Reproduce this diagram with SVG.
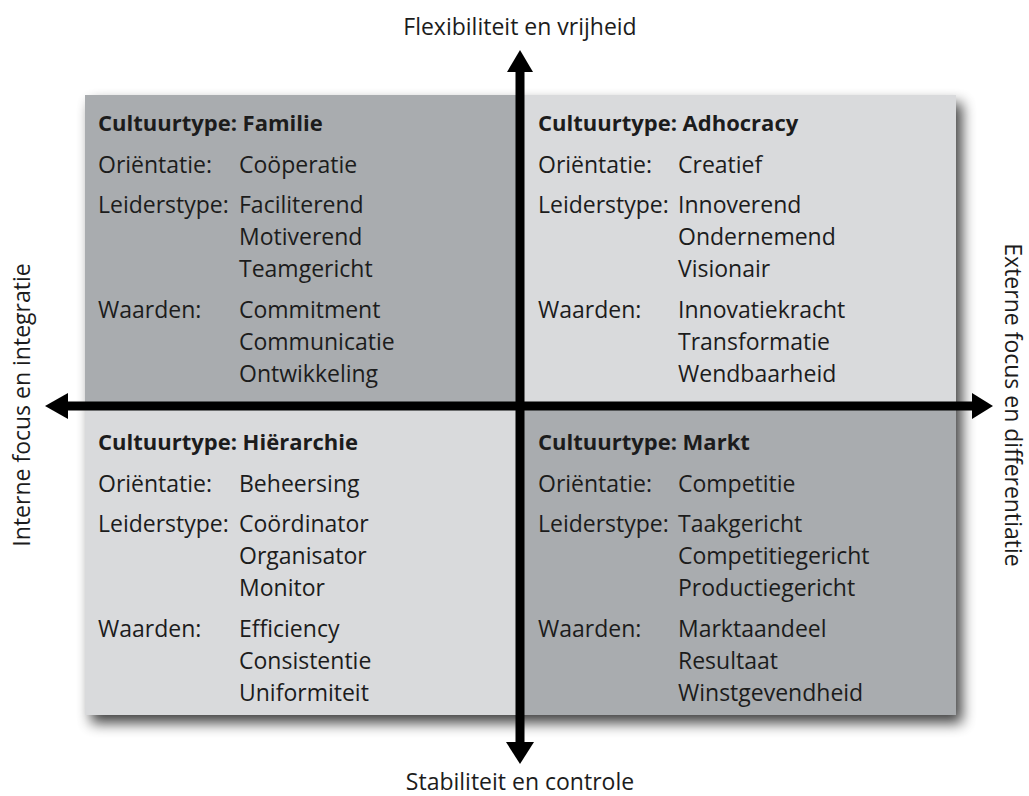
<svg xmlns="http://www.w3.org/2000/svg" width="1029" height="796" viewBox="0 0 1029 796">
<style>
  text { font-family: "Open Sans", "DejaVu Sans", sans-serif; font-size: 23px; fill: #1c1c1c; }
  .title { font-weight: 700; font-size: 22px; }
  .axis { text-anchor: middle; }
  .dark { fill: #a9acaf; }
  .light { fill: #d9dadc; }
  .ax { fill: #000; }
</style>
<defs>
  <filter id="shadow" x="-10%" y="-10%" width="125%" height="125%">
    <feGaussianBlur in="SourceAlpha" stdDeviation="7"/>
    <feOffset dx="6" dy="8" result="b"/>
    <feComponentTransfer><feFuncA type="linear" slope="0.75"/></feComponentTransfer>
    <feMerge><feMergeNode/><feMergeNode in="SourceGraphic"/></feMerge>
  </filter>
</defs>
<rect x="85" y="95" width="871" height="620" fill="#d9dadc" filter="url(#shadow)"/>
<g id="familie">
  <rect class="dark" x="85" y="95" width="435" height="311"/>
  <text class="title" x="98" y="131">Cultuurtype: Familie</text>
  <text x="98" y="173">Oriëntatie:</text><text x="239" y="173">Coöperatie</text>
  <text x="98" y="213">Leiderstype:</text><text x="239" y="213">Faciliterend</text>
  <text x="239" y="245">Motiverend</text>
  <text x="239" y="277">Teamgericht</text>
  <text x="98" y="318">Waarden:</text><text x="239" y="318">Commitment</text>
  <text x="239" y="350">Communicatie</text>
  <text x="239" y="382">Ontwikkeling</text>
</g>
<g id="adhocracy">
  <rect class="light" x="520" y="95" width="436" height="311"/>
  <text class="title" x="538" y="131">Cultuurtype: Adhocracy</text>
  <text x="538" y="173">Oriëntatie:</text><text x="678" y="173">Creatief</text>
  <text x="538" y="213">Leiderstype:</text><text x="678" y="213">Innoverend</text>
  <text x="678" y="245">Ondernemend</text>
  <text x="678" y="277">Visionair</text>
  <text x="538" y="318">Waarden:</text><text x="678" y="318">Innovatiekracht</text>
  <text x="678" y="350">Transformatie</text>
  <text x="678" y="382">Wendbaarheid</text>
</g>
<g id="hierarchie">
  <rect class="light" x="85" y="406" width="435" height="309"/>
  <text class="title" x="98" y="450">Cultuurtype: Hiërarchie</text>
  <text x="98" y="492">Oriëntatie:</text><text x="239" y="492">Beheersing</text>
  <text x="98" y="532">Leiderstype:</text><text x="239" y="532">Coördinator</text>
  <text x="239" y="564">Organisator</text>
  <text x="239" y="596">Monitor</text>
  <text x="98" y="637">Waarden:</text><text x="239" y="637">Efficiency</text>
  <text x="239" y="669">Consistentie</text>
  <text x="239" y="701">Uniformiteit</text>
</g>
<g id="markt">
  <rect class="dark" x="520" y="406" width="436" height="309"/>
  <text class="title" x="538" y="450">Cultuurtype: Markt</text>
  <text x="538" y="492">Oriëntatie:</text><text x="678" y="492">Competitie</text>
  <text x="538" y="532">Leiderstype:</text><text x="678" y="532">Taakgericht</text>
  <text x="678" y="564">Competitiegericht</text>
  <text x="678" y="596">Productiegericht</text>
  <text x="538" y="637">Waarden:</text><text x="678" y="637">Marktaandeel</text>
  <text x="678" y="669">Resultaat</text>
  <text x="678" y="701">Winstgevendheid</text>
</g>
<g id="connectors">
  <rect class="ax" x="515.5" y="70" width="9" height="674"/>
  <polygon class="ax" points="520,50 507,72 533,72"/>
  <polygon class="ax" points="520,764 506,742 534,742"/>
  <rect class="ax" x="66" y="401.5" width="908" height="9"/>
  <polygon class="ax" points="45,406 68,393 68,419"/>
  <polygon class="ax" points="993,406 972,393 972,419"/>
</g>
<g id="axis-labels">
  <text class="axis" x="520" y="35">Flexibiliteit en vrijheid</text>
  <text class="axis" x="520" y="790">Stabiliteit en controle</text>
  <text class="axis" transform="translate(30,405) rotate(-90)">Interne focus en integratie</text>
  <text class="axis" transform="translate(1005,405) rotate(90)">Externe focus en differentiatie</text>
</g>
</svg>
